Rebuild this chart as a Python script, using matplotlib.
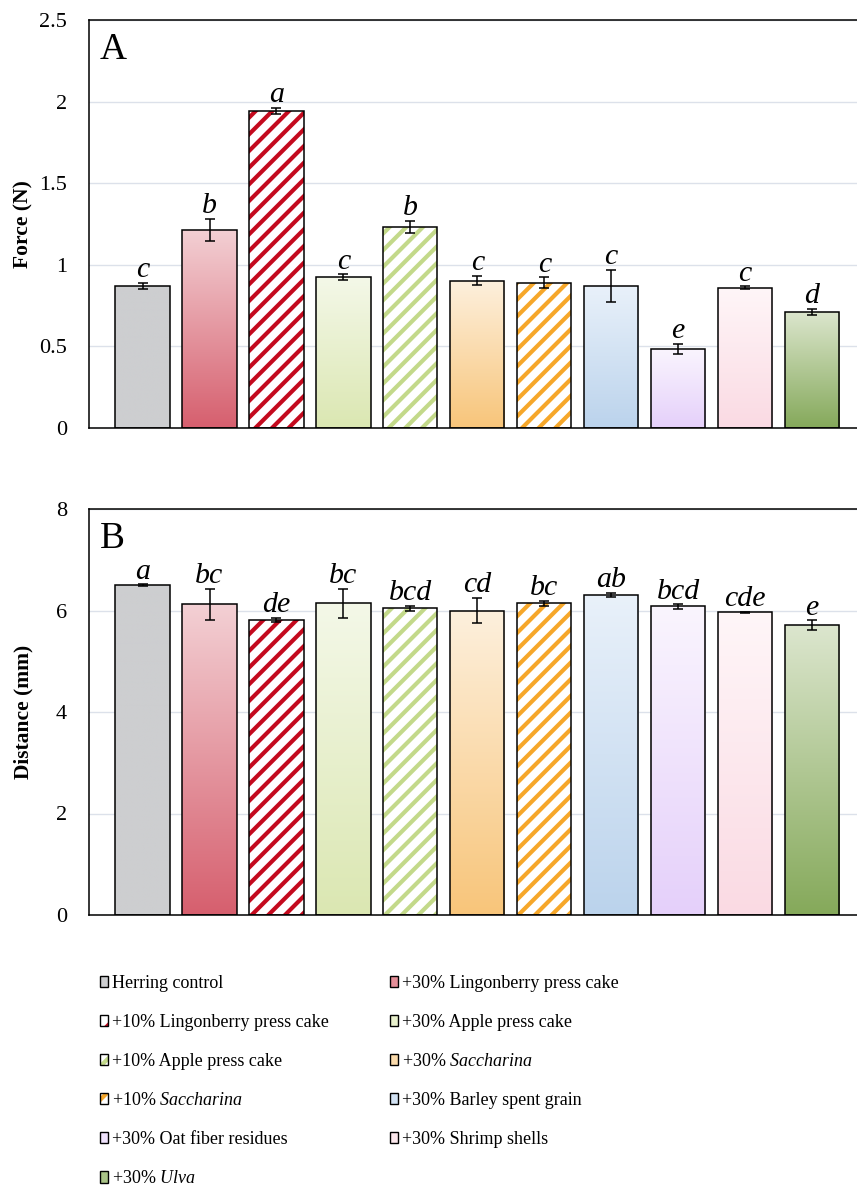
import numpy as np
import matplotlib
matplotlib.use("Agg")
import matplotlib.pyplot as plt
from matplotlib.colors import to_rgba
from matplotlib.patches import Patch
from matplotlib.legend_handler import HandlerTuple

plt.rcParams['font.family'] = ['Liberation Serif', 'DejaVu Serif']
plt.rcParams['mathtext.fontset'] = 'custom'
plt.rcParams['mathtext.rm'] = 'Liberation Serif'
plt.rcParams['mathtext.it'] = 'Liberation Serif:italic'
plt.rcParams['hatch.linewidth'] = 3.0

# treatments in plotting order
treatments = ['Herring control', '+30% Lingonberry press cake', '+10% Lingonberry press cake',
              '+30% Apple press cake', '+10% Apple press cake', '+30% $\\mathit{Saccharina}$',
              '+10% $\\mathit{Saccharina}$', '+30% Barley spent grain', '+30% Oat fiber residues',
              '+30% Shrimp shells', '+30% $\\mathit{Ulva}$']

force = [0.872, 1.215, 1.942, 0.925, 1.232, 0.903, 0.890, 0.872, 0.486, 0.860, 0.711]
force_err = [0.018, 0.068, 0.020, 0.018, 0.038, 0.029, 0.033, 0.098, 0.030, 0.008, 0.020]
force_letters = ['c', 'b', 'a', 'c', 'b', 'c', 'c', 'c', 'e', 'c', 'd']

distance = [6.50, 6.12, 5.81, 6.14, 6.04, 6.00, 6.14, 6.31, 6.08, 5.97, 5.71]
distance_err = [0.02, 0.31, 0.045, 0.29, 0.056, 0.25, 0.056, 0.036, 0.046, 0.01, 0.10]
distance_letters = ['a', 'bc', 'de', 'bc', 'bcd', 'cd', 'bc', 'ab', 'bcd', 'cde', 'e']

# (top colour, bottom colour) for gradient bars, None for hatched ones
grad_top = ['#CDCED0', '#F3D0D4', None, '#F4F8E8', None, '#FDF0DD', None, '#E9F1FA', '#FAF5FE', '#FFF6F8', '#DCE6CE']
grad_bot = ['#CDCED0', '#D65F6E', None, '#DBE7B2', None, '#F8C57A', None, '#BBD3EC', '#E5D0FA', '#FADAE3', '#85A95A']
hatch_col = [None, None, '#C40A1E', None, '#C3D98A', None, '#F6A72A', None, None, None, None]
legend_col = ['#CDCED0', '#E48E98', None, '#E8F0CC', None, '#FBDBAC', None, '#D2E2F3', '#EFE2FC', '#FCE8ED', '#A9C387']

x = np.arange(len(treatments))
W = 0.81
W_FIG, H_FIG = 857, 1192
fig = plt.figure(figsize=(W_FIG / 100, H_FIG / 100), dpi=100)

def px_axes(left, top, right, bottom):
    return fig.add_axes([left / W_FIG, 1 - bottom / H_FIG, (right - left) / W_FIG, (bottom - top) / H_FIG])

def draw_panel(ax, vals, errs, letters, ymax, step, ylabel, tag):
    for i in range(len(vals)):
        if hatch_col[i] is None:
            bar = ax.bar(x[i], vals[i], W, color='none', edgecolor='black', lw=1.1, zorder=3)[0]
            c0 = np.array(to_rgba(grad_top[i]))
            c1 = np.array(to_rgba(grad_bot[i]))
            t = np.linspace(0, 1, 256)[:, None]
            img = (c0 * (1 - t) + c1 * t)[:, None, :]
            im = ax.imshow(img, extent=[x[i] - W / 2, x[i] + W / 2, 0, vals[i]],
                           aspect='auto', zorder=2, interpolation='bilinear')
            im.set_clip_path(bar)
        else:
            ax.bar(x[i], vals[i], W, color='white', edgecolor=hatch_col[i], lw=0,
                   hatch='//', zorder=2)
            ax.bar(x[i], vals[i], W, color='none', edgecolor='black', lw=1.1, zorder=3)
    ax.errorbar(x, vals, yerr=errs, fmt='none', ecolor='black', elinewidth=1.1,
                capsize=3.6, capthick=1.1, zorder=4)
    for i in range(len(vals)):
        ax.annotate(letters[i], (x[i], vals[i] + errs[i]), xytext=(0, 4),
                    textcoords='offset points', ha='center', va='baseline',
                    fontsize=21.5, fontstyle='italic', zorder=5)
    ax.set_xlim(-0.8, 10.8)
    ax.set_ylim(0, ymax)
    ticks = np.arange(0, ymax + step / 2, step)
    ax.set_yticks(ticks)
    ax.set_yticklabels(['{:g}'.format(t) for t in ticks])
    ax.set_xticks([])
    ax.tick_params(axis='y', length=0, pad=16, labelsize=16)
    ax.yaxis.grid(True, color='#DCE1EA', lw=1.0, zorder=0)
    ax.set_axisbelow(True)
    ax.spines['right'].set_visible(False)
    for s in ['left', 'top', 'bottom']:
        ax.spines[s].set_linewidth(1.1)
    ax.set_ylabel(ylabel, fontsize=15.5, fontweight='bold')
    ax.yaxis.set_label_coords(-0.072, 0.5)
    ax.text(0.014, 0.97, tag, transform=ax.transAxes, ha='left', va='top', fontsize=27)

ax1 = px_axes(89, 20, 865.6, 428)
draw_panel(ax1, force, force_err, force_letters, 2.5, 0.5, 'Force (N)', 'A')

ax2 = px_axes(89, 509, 865.6, 915)
draw_panel(ax2, distance, distance_err, distance_letters, 8, 2, 'Distance (mm)', 'B')

# legend, arranged row-wise as in the original
handles = []
for i in range(len(treatments)):
    if hatch_col[i] is None:
        handles.append(Patch(facecolor=legend_col[i], edgecolor='black', lw=1.0))
    else:
        handles.append((Patch(facecolor='white', edgecolor=hatch_col[i], lw=0, hatch='/'),
                        Patch(facecolor='none', edgecolor='black', lw=1.0)))
order = [0, 2, 4, 6, 8, 10, 1, 3, 5, 7, 9]
fig.legend([handles[k] for k in order], [treatments[k] for k in order],
           handler_map={tuple: HandlerTuple(ndivide=1, pad=0)},
           loc='upper left', bbox_to_anchor=(100 / W_FIG, 1 - 975 / H_FIG),
           ncol=2, frameon=False, fontsize=13, borderpad=0, borderaxespad=0,
           handlelength=0.45, handleheight=0.6, handletextpad=0.2,
           labelspacing=1.22, columnspacing=3.4)

fig.savefig('out.png', dpi=100)
